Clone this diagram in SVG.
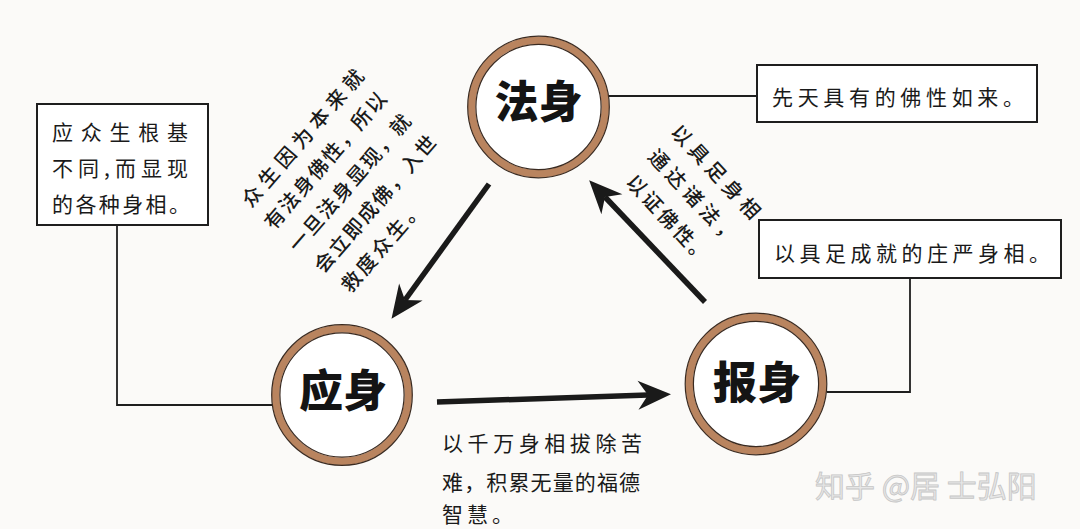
<svg xmlns="http://www.w3.org/2000/svg" width="1080" height="529" viewBox="0 0 1080 529">
<style>
.ring{fill:#ffffff;stroke:#b9845f;stroke-width:7.5}
.rim{fill:none;stroke:#3a2a20;stroke-width:1.2}
.big{font-family:"Noto Sans CJK SC","Noto Sans CJK JP",sans-serif;font-weight:900;font-size:44px;fill:#141414;text-anchor:middle}
.box{fill:#ffffff;stroke:#1e1e1e;stroke-width:2}
.t{font-family:"Noto Sans CJK SC","Noto Sans CJK JP",sans-serif;font-size:21px;fill:#1a1a1a}
.r{font-family:"Noto Sans CJK SC","Noto Sans CJK JP",sans-serif;font-size:20px;fill:#1a1a1a;font-weight:500}
.wire{fill:none;stroke:#1e1e1e;stroke-width:1.8}
.arrow{fill:none;stroke:#1a1a1a;stroke-width:5.5;marker-end:url(#ah)}
.wm{font-family:"Noto Sans CJK SC",sans-serif;font-size:30px;fill:#e6e6e6;stroke:#c6c6c6;stroke-width:0.8}
</style>
<defs>
<marker id="ah" markerUnits="userSpaceOnUse" markerWidth="40" markerHeight="32" viewBox="-12 -16 40 32" refX="0" refY="0" orient="auto">
<path d="M23,0 L-10,-14.5 L0,0 L-10,14.5 Z" fill="#1a1a1a"/>
</marker>
</defs>
<rect width="1080" height="529" fill="#fbfaf8"/>

<g id="connectors">
<polyline class="wire" points="117,225 117,405 273,405"/>
<line class="wire" x1="609" y1="96" x2="757" y2="96"/>
<polyline class="wire" points="910,278 910,392 827,392"/>
<line class="arrow" x1="489" y1="184" x2="405" y2="300"/>
<line class="arrow" x1="705" y1="302" x2="605" y2="197"/>
<line class="arrow" x1="437" y1="402" x2="648" y2="395"/>
</g>

<g id="node-fashen">
<circle class="ring" cx="538.5" cy="107" r="66.8"/>
<circle class="rim" cx="538.5" cy="107" r="70.8"/>
<circle class="rim" cx="538.5" cy="107" r="62.6"/>
<text class="big" x="538.5" y="118">法身</text>
</g>

<g id="node-yingshen">
<circle class="ring" cx="342" cy="395" r="66.3"/>
<circle class="rim" cx="342" cy="395" r="70.3"/>
<circle class="rim" cx="342" cy="395" r="62.1"/>
<text class="big" x="343" y="407">应身</text>
</g>

<g id="node-baoshen">
<circle class="ring" cx="756" cy="384" r="66.8"/>
<circle class="rim" cx="756" cy="384" r="70.8"/>
<circle class="rim" cx="756" cy="384" r="62.6"/>
<text class="big" x="757" y="399">报身</text>
</g>

<g id="box-left">
<rect class="box" x="37" y="104" width="171" height="121"/>
<text class="t" x="52" y="140" textLength="136" lengthAdjust="spacing">应众生根基</text>
<text class="t" x="52" y="176" textLength="136" lengthAdjust="spacing">不同,而显现</text>
<text class="t" x="52" y="212" textLength="138" lengthAdjust="spacing">的各种身相。</text>
</g>

<g id="box-topright">
<rect class="box" x="757" y="65" width="280" height="57"/>
<text class="t" x="772" y="105" textLength="252" lengthAdjust="spacing">先天具有的佛性如来。</text>
</g>

<g id="box-midright">
<rect class="box" x="759" y="220" width="302" height="58"/>
<text class="t" x="774" y="261" textLength="276" lengthAdjust="spacing">以具足成就的庄严身相。</text>
</g>

<g id="label-left" transform="translate(254,198) rotate(-49)">
<text class="r" x="-10" y="4.6" textLength="174" lengthAdjust="spacing">众生因为本来就</text>
<text class="r" x="-12" y="36.6" textLength="174" lengthAdjust="spacing">有法身佛性，所以</text>
<text class="r" x="-13" y="69.6" textLength="174" lengthAdjust="spacing">一旦法身显现，就</text>
<text class="r" x="-12" y="102.6" textLength="174" lengthAdjust="spacing">会立即成佛，入世</text>
<text class="r" x="-9" y="135.6" letter-spacing="3">救度众生。</text>
</g>

<g id="label-right" transform="translate(682,135) rotate(47)">
<text class="r" x="-10" y="7.6" letter-spacing="5">以具足身相</text>
<text class="r" x="-7.7" y="41.1" letter-spacing="5">通达诸法，</text>
<text class="r" x="-4.1" y="74.6" letter-spacing="3">以证佛性。</text>
</g>

<g id="label-bottom">
<text class="t" x="442" y="451" textLength="200" lengthAdjust="spacing">以千万身相拔除苦</text>
<text class="t" x="442" y="490" textLength="198" lengthAdjust="spacing">难，积累无量的福德</text>
<text class="t" x="442" y="522" letter-spacing="4">智慧。</text>
</g>

<g id="watermark">
<text class="wm" x="815" y="497">知乎 @居 士弘阳</text>
</g>
</svg>
